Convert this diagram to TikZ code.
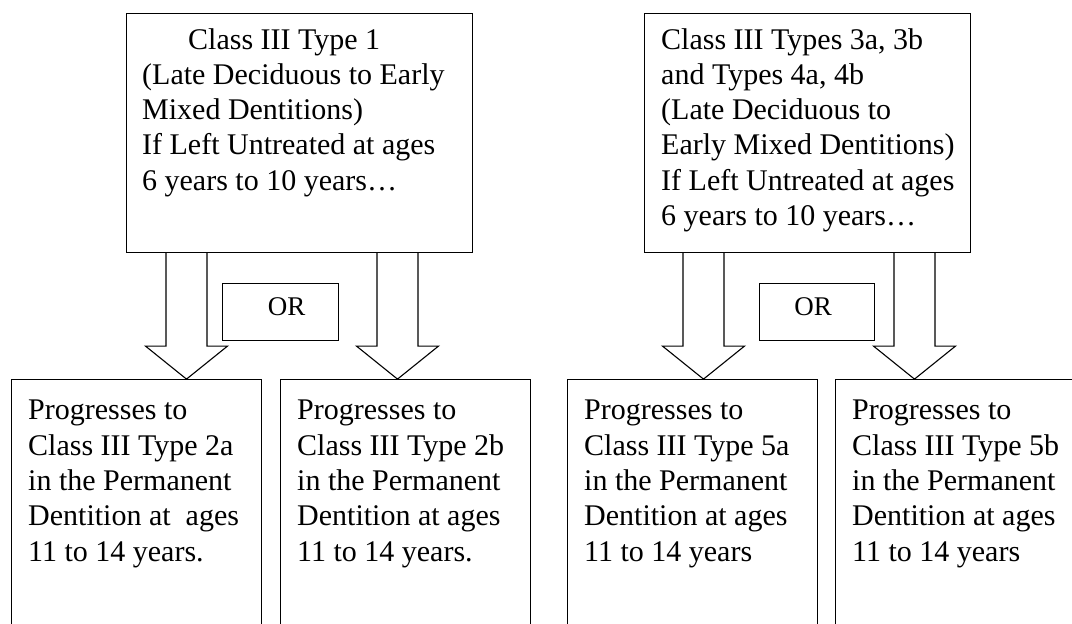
\documentclass[tikz,border=0pt]{standalone}
\usepackage{fontspec}
\setmainfont{Liberation Serif}
\begin{document}
\begin{tikzpicture}[x=1pt,y=-1pt,
  box/.style={draw, line width=1.1pt, anchor=north west, inner sep=0pt},
  txt/.style={anchor=north west, inner sep=0pt, align=left, font=\fontsize{30}{35.3}\selectfont},
  ortxt/.style={inner sep=0pt, font=\fontsize{27}{30}\selectfont},
  barrow/.style={draw, line width=1.1pt, line join=miter}]
\useasboundingbox (0,0) rectangle (1072,624);
\clip (0,0) rectangle (1072,624);
\newcommand\blockarr[2]{\draw[barrow] ([xshift=#2]#1.south west) -- ++(0,93) -- ++(-20.5,0) -- ++(41,33) -- ++(41,-33) -- ++(-20.5,0) -- ++(0,-93);}
% top boxes
\node[box, minimum width=346, minimum height=239] (tl) at (126,13) {};
\node[box, minimum width=326, minimum height=239] (tr) at (644,13) {};
% bottom boxes
\node[box, minimum width=250, minimum height=270] (b1) at (11,379) {};
\node[box, minimum width=250, minimum height=270] (b2) at (280,379) {};
\node[box, minimum width=250, minimum height=270] (b3) at (567,379) {};
\node[box, minimum width=250, minimum height=270] (b4) at (835,379) {};
% OR boxes
\node[box, minimum width=116, minimum height=57] (or1) at (222,283) {};
\node[box, minimum width=115, minimum height=57] (or2) at (759,283) {};
\node[ortxt] (ort1) at ([xshift=6pt,yshift=5pt]or1.center) {OR};
\node[ortxt] (ort2) at ([xshift=-4pt,yshift=5pt]or2.center) {OR};
% arrows
\blockarr{tl}{40pt}
\blockarr{tl}{251pt}
\blockarr{tr}{39pt}
\blockarr{tr}{250pt}
% texts
\node[txt] (ttl) at ([xshift=16pt,yshift=-15pt]tl.north west) {\hspace*{46pt}Class III Type 1\\(Late Deciduous to Early\\Mixed Dentitions)\\If Left Untreated at ages\\6 years to 10 years…};
\node[txt] (ttr) at ([xshift=17pt,yshift=-15pt]tr.north west) {Class III Types 3a, 3b\\and Types 4a, 4b\\(Late Deciduous to\\Early Mixed Dentitions)\\If Left Untreated at ages\\6 years to 10 years…};
\node[txt] (tb1) at ([xshift=17pt,yshift=-21pt]b1.north west) {Progresses to\\Class III Type 2a\\in the Permanent\\Dentition at~ ages\\11 to 14 years.};
\node[txt] (tb2) at ([xshift=17pt,yshift=-21pt]b2.north west) {Progresses to\\Class III Type 2b\\in the Permanent\\Dentition at ages\\11 to 14 years.};
\node[txt] (tb3) at ([xshift=17pt,yshift=-21pt]b3.north west) {Progresses to\\Class III Type 5a\\in the Permanent\\Dentition at ages\\11 to 14 years};
\node[txt] (tb4) at ([xshift=17pt,yshift=-21pt]b4.north west) {Progresses to\\Class III Type 5b\\in the Permanent\\Dentition at ages\\11 to 14 years};
\end{tikzpicture}
\end{document}
